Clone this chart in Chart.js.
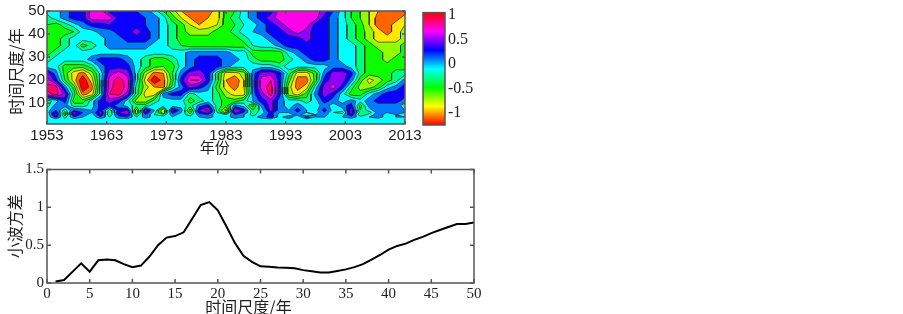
<!DOCTYPE html>
<html>
<head>
<meta charset="utf-8">
<style>
  body { margin: 0; background: #fff; }
  canvas { position: absolute; }
</style>
<script src="https://cdn.jsdelivr.net/npm/chart.js@4"></script>
</head>
<body>
<canvas id="scalogram" width="440" height="160" style="left:0;top:0"></canvas>
<canvas id="colorbar" width="70" height="140" style="left:420px;top:0"></canvas>
<canvas id="variance" width="500" height="159" style="left:0;top:155px"></canvas>
<script>
// scalogram grid: values are coefficient x 10
const yearColumns = [1953,1954.5,1956,1957.5,1959,1960.5,1962,1963.5,1965,1966.5,1968,1969.5,1971,1972.5,1974,1975.5,1977,1978.5,1980,1981.5,1983,1984.5,1986,1987.5,1989,1990.5,1992,1993.5,1995,1996.5,1998,1999.5,2001,2002.5,2004,2005.5,2007,2008.5,2010,2011.5,2013];
const scaleRows = [50,47,44,41,38,35,32,29,26,23,20,17,14,11,9,7,6,5,4,3,1];
const coefficientRows = [
  [-1,-1,1,3,3,7,7,3,3,3,2,1,-1,-4,-7,-10,-11,-11,-11,-9,-5,-4,-1,1,3,3,7,7,7,7,7,5,2,-1,-4,-6,-8,-10,-11,-11,-11],
  [-3,-1,1,3,3,7,7,7,3,3,3,2,1,-1,-5,-8,-10,-11,-10,-9,-5,-3,-1,1,3,5,7,7,7,7,7,3,1,-1,-4,-6,-8,-11,-11,-11,-9],
  [-4,-5,-3,-1,1,3,3,4,3,3,3,2,1,-1,-3,-5,-8,-10,-9,-8,-5,-4,-2,-1,1,3,5,7,7,7,3,3,1,-1,-3,-5,-8,-11,-11,-9,-8],
  [-5,-5,-5,-4,-1,-1,1,1,3,3,5,3,1,-1,-3,-5,-7,-7,-7,-5,-5,-3,-1,0,1,3,3,5,7,5,3,3,1,-1,-3,-5,-7,-9,-11,-9,-7],
  [-5,-5,-3,-1,-1,-1,-1,1,1,3,3,3,1,-1,-3,-5,-5,-5,-5,-5,-5,-5,-3,-1,-1,1,3,3,3,5,3,3,1,-1,-3,-5,-7,-9,-9,-9,-7],
  [-5,-5,-3,-1,-5,-3,-1,1,1,1,1,1,-1,-1,-3,-4,-5,-5,-5,-5,-5,-5,-5,-2,-1,-1,1,3,3,3,3,3,1,-1,-1,-3,-5,-7,-7,-7,-5],
  [-5,-3,-1,-1,-1,-1,-1,-1,-1,-1,-1,-1,-1,-1,-1,-1,1,1,1,1,1,-1,-1,-5,-5,-5,-5,-1,1,3,3,3,1,-1,-1,-3,-5,-5,-7,-7,-5],
  [-3,-1,-1,-1,-1,1,3,3,3,1,-1,-3,-5,-5,-3,-1,1,3,3,3,1,1,-1,-3,-5,-5,-5,-3,-1,1,3,3,1,-1,-1,-3,-5,-5,-7,-5,-5],
  [-1,-1,-5,-5,-5,-3,1,3,3,3,-1,-3,-5,-6,-5,-1,1,3,3,3,1,-1,-1,-1,-1,-1,-3,-1,-1,-1,-1,-1,1,1,-1,-3,-5,-5,-5,-5,-5],
  [5,1,-5,-9,-11,-7,-1,5,7,5,-1,-7,-11,-10,-4,1,5,5,3,-3,-9,-9,-7,1,5,5,3,-3,-9,-9,-5,1,5,5,3,-3,-5,-5,-5,-3,-3],
  [7,3,-4,-9,-14,-9,-1,7,9,7,-1,-9,-14,-11,-5,3,8,8,3,-3,-10,-12,-8,1,7,8,3,-5,-11,-11,-5,3,5,5,1,-5,-9,-7,-5,-3,1],
  [9,9,1,-5,-14,-11,-1,7,10,7,-3,-7,-10,-11,-3,1,5,3,1,-5,-9,-11,-8,1,7,9,3,-7,-11,-9,-1,5,7,3,-3,-7,-7,-5,-1,1,3],
  [7,9,5,-3,-11,-9,-1,8,9,5,-3,-9,-9,1,3,3,-3,-1,-1,-3,-7,-9,-9,1,5,9,3,-7,-9,-5,1,5,3,-1,-5,-5,-1,1,3,3,3],
  [-3,-1,3,-5,-5,-1,3,5,3,-1,-7,-7,-3,-1,-1,-1,-5,-3,-1,-3,-5,-5,-3,0,3,5,1,-1,-1,-3,-1,3,1,-1,1,-1,1,3,3,3,1],
  [-3,1,1,-3,-3,-1,3,3,1,-1,-3,-3,-1,-1,-1,-1,-3,1,3,-3,-5,1,-1,-7,1,5,1,-1,1,-1,-1,1,-1,1,3,-5,1,1,1,1,-1],
  [-1,2,-3,2,1,0,3,-3,3,4,-7,5,0,-8,5,1,-7,4,7,-3,-9,6,3,-4,-1,5,1,0,3,0,-1,3,-1,-1,5,-4,-1,2,0,0,0],
  [-1,4,-5,5,2,0,5,-4,4,6,-8,4,-1,-8,3,0,-5,3,5,-2,-7,5,2,-3,-1,3,0,0,2,0,-1,2,-2,-3,5,-3,-3,1,0,0,0],
  [-2,5,-5,4,1,-1,4,-4,3,4,-4,2,-2,-3,1,-1,-3,1,2,-2,-2,2,0,-3,0,3,-1,-1,1,-2,0,1,-2,-1,4,-4,-1,1,-1,0,-1],
  [-2,3,-3,2,0,-2,2,-2,1,2,-2,1,-1,-1,0,-1,-1,0,1,-1,-1,1,0,-1,1,3,-1,2,-2,3,0,0,-1,0,1,-1,0,1,-1,0,0],
  [-1,-1,-1,-1,-1,-1,-1,-1,-1,-1,-1,-1,-1,-1,-1,-1,-1,-1,-1,-1,-1,-1,-1,-1,-1,-1,-1,-1,-1,-1,-1,-1,-1,-1,-1,-1,-1,-1,-1,-1,-1],
  [-1,-1,-1,-1,-1,-1,-1,-1,-1,-1,-1,-1,-1,-1,-1,-1,-1,-1,-1,-1,-1,-1,-1,-1,-1,-1,-1,-1,-1,-1,-1,-1,-1,-1,-1,-1,-1,-1,-1,-1,-1],
];
const contourLevels = [-1.2,-1,-0.8,-0.6,-0.4,-0.2,0,0.2,0.4,0.6,0.8,1];
const yearTicks = [1953,1963,1973,1983,1993,2003,2013];
const scaleTicks = [10,20,30,40,50];
const colorbarRange = [-1.25,1.05];
const colorbarTicks = [-1,-0.5,0,0.5,1];

// wavelet variance curve
const varianceScales = [1,2,3,4,5,6,7,8,9,10,11,12,13,14,15,16,17,18,19,20,21,22,23,24,25,26,27,28,29,30,31,32,33,34,35,36,37,38,39,40,41,42,43,44,45,46,47,48,49,50];
const varianceValues = [0.02,0.04,0.15,0.26,0.15,0.3,0.31,0.3,0.25,0.21,0.23,0.35,0.5,0.6,0.62,0.67,0.85,1.03,1.07,0.96,0.75,0.53,0.36,0.28,0.22,0.215,0.205,0.2,0.195,0.17,0.155,0.14,0.14,0.16,0.18,0.21,0.25,0.31,0.37,0.44,0.49,0.52,0.57,0.61,0.66,0.7,0.74,0.78,0.78,0.8];
const varianceTickX = [0,5,10,15,20,25,30,35,40,45,50];
const varianceTickY = [0,0.5,1,1.5];

const sansFont = "'Liberation Sans', sans-serif";
const serifFont = "'Liberation Serif', serif";
const cjkFont = "'Noto Sans CJK SC', sans-serif";
const textColor = "#222";

const hueFor = (v) => 156.5 * (v - colorbarRange[0]);
const colorFor = (v) => `hsl(${Math.max(0, Math.min(360, hueFor(v)))}, 100%, 50%)`;

// corners of one grid cell, in winding order
const cellCorners = (col, row) => [
  { x: yearColumns[col], y: scaleRows[row], v: coefficientRows[row][col] / 10 },
  { x: yearColumns[col + 1], y: scaleRows[row], v: coefficientRows[row][col + 1] / 10 },
  { x: yearColumns[col + 1], y: scaleRows[row + 1], v: coefficientRows[row + 1][col + 1] / 10 },
  { x: yearColumns[col], y: scaleRows[row + 1], v: coefficientRows[row + 1][col] / 10 },
];

const crossing = (a, b, level) => {
  const t = (level - a.v) / (b.v - a.v);
  return { x: a.x + t * (b.x - a.x), y: a.y + t * (b.y - a.y) };
};

const forEachCell = (fn) => {
  for (let row = 0; row < scaleRows.length - 1; row++) {
    for (let col = 0; col < yearColumns.length - 1; col++) {
      fn(cellCorners(col, row));
    }
  }
};

// contour lines as one broken line, NaN points split the pieces
const buildContourLines = () => {
  const points = [];
  forEachCell((corners) => {
    contourLevels.forEach((level) => {
      const hits = [];
      corners.forEach((a, i) => {
        const b = corners[(i + 1) % 4];
        if (a.v < level !== b.v < level) hits.push(crossing(a, b, level));
      });
      for (let i = 0; i + 1 < hits.length; i += 2) {
        points.push(hits[i], hits[i + 1], { x: NaN, y: NaN });
      }
    });
  });
  return points;
};

const contourFill = {
  id: "contourFill",
  beforeDatasetsDraw(chart) {
    const { ctx, chartArea, scales } = chart;
    ctx.save();
    ctx.fillStyle = colorFor(contourLevels[0] - 0.1);
    ctx.fillRect(chartArea.left, chartArea.top, chartArea.width, chartArea.height);
    contourLevels.forEach((level) => {
      ctx.beginPath();
      forEachCell((corners) => {
        const poly = [];
        corners.forEach((a, i) => {
          const b = corners[(i + 1) % 4];
          if (a.v >= level) poly.push(a);
          if (a.v < level !== b.v < level) poly.push(crossing(a, b, level));
        });
        poly.forEach((p, i) => {
          const px = scales.x.getPixelForValue(p.x);
          const py = scales.y.getPixelForValue(p.y);
          if (i === 0) ctx.moveTo(px, py);
          else ctx.lineTo(px, py);
        });
        if (poly.length) ctx.closePath();
      });
      ctx.fillStyle = colorFor(level + 0.1);
      ctx.fill();
    });
    ctx.restore();
  },
};

// grey frame with inward ticks on all four sides
const frameTicks = {
  id: "frameTicks",
  afterDatasetsDraw(chart, args, opts) {
    const { ctx, chartArea: a, scales } = chart;
    const len = opts.length || 0;
    ctx.save();
    ctx.strokeStyle = opts.color;
    ctx.lineWidth = opts.width;
    ctx.strokeRect(a.left, a.top, a.width, a.height);
    if (len) {
      ctx.beginPath();
      scales.x.ticks.forEach((t) => {
        const px = scales.x.getPixelForValue(t.value);
        ctx.moveTo(px, a.bottom);
        ctx.lineTo(px, a.bottom - len);
        ctx.moveTo(px, a.top);
        ctx.lineTo(px, a.top + len);
      });
      scales.y.ticks.forEach((t) => {
        const py = scales.y.getPixelForValue(t.value);
        ctx.moveTo(a.left, py);
        ctx.lineTo(a.left + len, py);
        ctx.moveTo(a.right, py);
        ctx.lineTo(a.right - len, py);
      });
      ctx.stroke();
    }
    ctx.restore();
  },
};

const fixedTicks = (values) => (axis) => {
  axis.ticks = values.map((value) => ({ value }));
};

const tickStyle = (family, size, padding) => ({
  color: textColor,
  font: { family, size },
  padding,
  autoSkip: false,
  maxRotation: 0,
  callback: (value) => String(value),
});

new Chart(document.getElementById("scalogram"), {
  type: "scatter",
  data: {
    datasets: [
      {
        data: buildContourLines(),
        showLine: true,
        spanGaps: false,
        borderColor: "#222",
        borderWidth: 0.7,
        pointRadius: 0,
      },
    ],
  },
  options: {
    responsive: false,
    animation: false,
    layout: { padding: { top: 10, right: 35 } },
    plugins: {
      legend: { display: false },
      tooltip: { enabled: false },
      frameTicks: { color: "#555", width: 1.5, length: 3 },
    },
    scales: {
      x: {
        type: "linear",
        min: 1953,
        max: 2013,
        afterBuildTicks: fixedTicks(yearTicks),
        afterFit: (s) => { s.height = 36; },
        grid: { display: false, drawTicks: false },
        border: { display: false },
        ticks: tickStyle(sansFont, 15, 3),
        title: {
          display: true,
          text: "年份\u3000\u2002",
          color: textColor,
          font: { family: cjkFont, size: 15 },
          padding: { top: 0, bottom: 4 },
        },
      },
      y: {
        type: "linear",
        min: 1,
        max: 50,
        afterBuildTicks: fixedTicks(scaleTicks),
        afterFit: (s) => { s.width = 47; },
        grid: { display: false, drawTicks: false },
        border: { display: false },
        ticks: tickStyle(sansFont, 15, 2),
        title: {
          display: true,
          text: "时间尺度/年\u2002",
          color: textColor,
          font: { family: cjkFont, size: 16 },
          padding: { top: 6, bottom: 0 },
        },
      },
    },
  },
  plugins: [contourFill, frameTicks],
});

new Chart(document.getElementById("colorbar"), {
  type: "bar",
  data: {
    labels: [""],
    datasets: [
      {
        data: [colorbarRange],
        categoryPercentage: 1,
        barPercentage: 1,
        backgroundColor: (c) => {
          const area = c.chart.chartArea;
          if (!area) return "#fff";
          const gradient = c.chart.ctx.createLinearGradient(0, area.bottom, 0, area.top);
          [0, 1 / 6, 2 / 6, 3 / 6, 4 / 6, 5 / 6, 1].forEach((stop) => {
            gradient.addColorStop(stop, `hsl(${stop * 360}, 100%, 50%)`);
          });
          return gradient;
        },
      },
    ],
  },
  options: {
    responsive: false,
    animation: false,
    layout: { padding: { top: 10, bottom: 15, left: 3 } },
    plugins: {
      legend: { display: false },
      tooltip: { enabled: false },
      frameTicks: { color: "#555", width: 1.5 },
    },
    scales: {
      x: { display: false },
      y: {
        type: "linear",
        position: "right",
        min: colorbarRange[0],
        max: colorbarRange[1],
        afterBuildTicks: fixedTicks(colorbarTicks),
        afterFit: (s) => { s.width = 45; },
        grid: { display: false, drawTicks: false },
        border: { display: false },
        ticks: tickStyle(serifFont, 16, 3),
      },
    },
  },
  plugins: [frameTicks],
});

new Chart(document.getElementById("variance"), {
  type: "line",
  data: {
    datasets: [
      {
        data: varianceScales.map((x, i) => ({ x, y: varianceValues[i] })),
        borderColor: "#000",
        borderWidth: 2,
        pointRadius: 0,
        tension: 0,
      },
    ],
  },
  options: {
    responsive: false,
    animation: false,
    layout: { padding: { top: 14.5, right: 26 } },
    plugins: {
      legend: { display: false },
      tooltip: { enabled: false },
      frameTicks: { color: "#555", width: 1.5, length: 4 },
    },
    scales: {
      x: {
        type: "linear",
        min: 0,
        max: 50,
        afterBuildTicks: fixedTicks(varianceTickX),
        afterFit: (s) => { s.height = 31; },
        grid: { display: false, drawTicks: false },
        border: { display: false },
        ticks: tickStyle(serifFont, 15, 2),
        title: {
          display: true,
          text: "时间尺度/年\u3000\u2002",
          color: textColor,
          font: { family: cjkFont, size: 16 },
          padding: { top: 0, bottom: -3 },
        },
      },
      y: {
        type: "linear",
        min: 0,
        max: 1.5,
        afterBuildTicks: fixedTicks(varianceTickY),
        afterFit: (s) => { s.width = 47; },
        grid: { display: false, drawTicks: false },
        border: { display: false },
        ticks: tickStyle(serifFont, 15, 3),
        title: {
          display: true,
          text: "小波方差",
          color: textColor,
          font: { family: cjkFont, size: 16 },
          padding: { top: 5, bottom: 0 },
        },
      },
    },
  },
  plugins: [frameTicks],
});
</script>
</body>
</html>
